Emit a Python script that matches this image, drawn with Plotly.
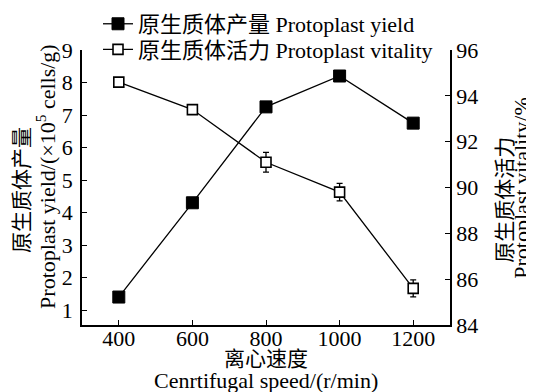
import plotly.graph_objects as go

speed = [400, 600, 800, 1000, 1200]
yield_vals = [1.4, 4.3, 7.25, 8.2, 6.75]
yield_err = [0.05, 0.12, 0.08, 0.08, 0.06]
vitality_vals = [94.6, 93.4, 91.1, 89.8, 85.6]
vitality_err = [0.12, 0.15, 0.43, 0.38, 0.37]

yield_name = "原生质体产量 Protoplast yield"
vitality_name = "原生质体活力 Protoplast vitality"
x_title_cn = "离心速度"
x_title_en = "Cenrtifugal speed/(r/min)"
y1_title_cn = "原生质体产量"
y1_title_en = "Protoplast yield/(×10<sup>5</sup> cells/g)"
y2_title_cn = "原生质体活力"
y2_title_en = "Protoplast vitality/%"

FONT = "Liberation Serif, Times New Roman, Noto Sans CJK SC, serif"
FS = 22

fig = go.Figure()
fig.add_trace(go.Scatter(
    x=speed, y=yield_vals, name=yield_name, mode="lines+markers",
    line=dict(color="black", width=1.3),
    marker=dict(symbol="square", size=12, color="black", line=dict(color="black", width=1)),
    error_y=dict(type="data", array=yield_err, color="black", thickness=1.3, width=3),
    yaxis="y", legend="legend",
))
fig.add_trace(go.Scatter(
    x=speed, y=vitality_vals, name=vitality_name, mode="lines+markers",
    line=dict(color="black", width=1.3),
    marker=dict(symbol="square", size=10, color="white", line=dict(color="black", width=1.6)),
    error_y=dict(type="data", array=vitality_err, color="black", thickness=1.3, width=3),
    yaxis="y2", legend="legend2",
))

axis_common = dict(
    showgrid=False, zeroline=False, showline=True, linecolor="black", linewidth=1.5,
    ticks="inside", ticklen=5, tickwidth=1.3, tickcolor="black", automargin=False,
    tickfont=dict(family=FONT, size=FS, color="black"),
)

legend_common = dict(
    xanchor="left", yanchor="top", bgcolor="rgba(0,0,0,0)", borderwidth=0,
    font=dict(family=FONT, size=FS, color="black"), itemwidth=30,
)

fig.update_layout(
    width=526, height=384,
    margin=dict(l=74, r=84, t=42, b=67, autoexpand=False),
    paper_bgcolor="white", plot_bgcolor="white",
    font=dict(family=FONT, size=FS, color="black"),
    showlegend=True,
    legend=dict(x=0.0435, y=1.171, **legend_common),
    legend2=dict(x=0.0435, y=1.078, **legend_common),
    xaxis=dict(range=[300, 1300], tickvals=speed, ticktext=[str(s) for s in speed],
               ticklabelstandoff=-7, **axis_common),
    yaxis=dict(range=[0.54, 9], tickvals=[1, 2, 3, 4, 5, 6, 7, 8, 9],
               ticklabelstandoff=3, **axis_common),
    yaxis2=dict(range=[84, 96], tickvals=[84, 86, 88, 90, 92, 94, 96],
                overlaying="y", side="right", **axis_common),
)

def title_ann(text, x, y, angle, size=FS):
    fig.add_annotation(text=text, x=x, y=y, xref="paper", yref="paper",
                       xanchor="center", yanchor="middle", textangle=angle,
                       showarrow=False, font=dict(family=FONT, size=size, color="black"))

title_ann(x_title_cn, 0.5, -0.125, 0, 21)
title_ann(x_title_en, 0.5, -0.2, 0)
title_ann(y1_title_cn, -0.163, 0.491, -90, 21)
title_ann(y1_title_en, -0.098, 0.542, -90)
title_ann(y2_title_cn, 1.149, 0.455, -90, 21)
title_ann(y2_title_en, 1.192, 0.498, -90)

fig.write_html("out.html")
